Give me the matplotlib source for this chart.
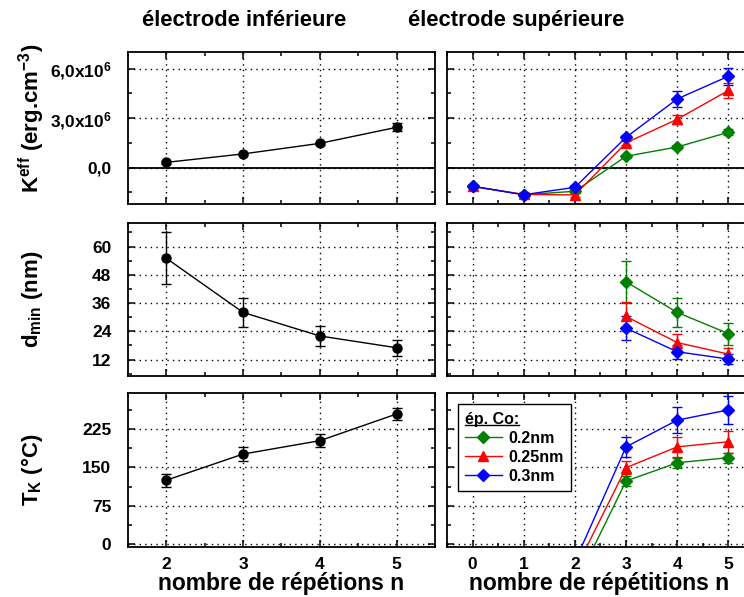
import matplotlib
matplotlib.use('Agg')
import matplotlib.pyplot as plt
from matplotlib.ticker import MultipleLocator, FixedLocator, FixedFormatter
from matplotlib.lines import Line2D

plt.rcParams['font.family'] = ['Liberation Sans', 'DejaVu Sans']
plt.rcParams['font.weight'] = 'bold'
plt.rcParams['mathtext.fontset'] = 'custom'
plt.rcParams['mathtext.rm'] = 'Liberation Sans:bold'
plt.rcParams['mathtext.bf'] = 'Liberation Sans:bold'
plt.rcParams['mathtext.it'] = 'Liberation Sans:bold'
plt.rcParams['mathtext.default'] = 'bf'

# electrode inferieure
n_inf = [2, 3, 4, 5]
keff_inf = [0.32e6, 0.83e6, 1.47e6, 2.44e6]
keff_inf_err = [0.08e6, 0.08e6, 0.1e6, 0.25e6]
dmin_inf = [55, 32, 22, 17]
dmin_inf_err = [11, 6.3, 4.3, 3.5]
tk_inf = [125, 176, 202, 254]
tk_inf_err = [13, 13, 13, 12]

# electrode superieure
n_sup = [0, 1, 2, 3, 4, 5]
keff_02 = [-1.13e6, -1.64e6, -1.43e6, 0.69e6, 1.25e6, 2.14e6]
keff_02_err = [0.08e6, 0.08e6, 0.08e6, 0.1e6, 0.12e6, 0.18e6]
keff_025 = [-1.13e6, -1.62e6, -1.65e6, 1.5e6, 2.93e6, 4.67e6]
keff_025_err = [0.08e6, 0.12e6, 0.12e6, 0.12e6, 0.28e6, 0.43e6]
keff_03 = [-1.13e6, -1.64e6, -1.19e6, 1.84e6, 4.16e6, 5.53e6]
keff_03_err = [0.1e6, 0.12e6, 0.12e6, 0.15e6, 0.46e6, 0.5e6]

n_sup_d = [3, 4, 5]
dmin_02 = [45, 32, 23]
dmin_02_err = [9, 6.3, 4.7]
dmin_025 = [30.3, 19.2, 14.3]
dmin_025_err = [6, 3.7, 2.7]
dmin_03 = [25.3, 15.3, 12.2]
dmin_03_err = [5, 3, 2.3]

n_sup_t = [2, 3, 4, 5]
tk_02 = [-80, 123.5, 159, 169]
tk_02_err = [0, 10, 10, 10]
tk_025 = [-51, 149.5, 190, 200]
tk_025_err = [0, 12, 20, 21]
tk_03 = [-34, 190, 242, 262]
tk_03_err = [0, 20, 25, 27]

labels = ['0.2nm', '0.25nm', '0.3nm']
colors = ['#008000', '#ff0000', '#0000ff']
markers = ['D', '^', 'D']
msizes = [6, 7, 6.5]

fig = plt.figure(figsize=(7.44, 5.97), dpi=100)

rows = [(0.6583, 0.2546), (0.3702, 0.2563), (0.0838, 0.2580)]
lx, rx, w = 0.1720, 0.6008, 0.4126

axL = [fig.add_axes([lx, b, w, h]) for b, h in rows]
axR = [fig.add_axes([rx, b, w, h]) for b, h in rows]


def style(ax, xmaj, xmin, ymaj, ymin, ylim, xlim):
    ax.set_xlim(*xlim)
    ax.set_ylim(*ylim)
    ax.xaxis.set_major_locator(FixedLocator(xmaj))
    ax.xaxis.set_minor_locator(MultipleLocator(xmin))
    ax.yaxis.set_major_locator(FixedLocator(ymaj))
    ax.yaxis.set_minor_locator(MultipleLocator(ymin))
    ax.tick_params(which='both', direction='in', top=True, right=True,
                   width=1.1, labelsize=12.5)
    ax.tick_params(which='major', length=5)
    ax.tick_params(which='minor', length=3)
    ax.tick_params(axis='y', pad=12)
    ax.tick_params(axis='x', pad=7)
    ax.grid(True, which='major', color='black', linestyle=(0, (1, 3)), linewidth=1)
    for s in ax.spines.values():
        s.set_linewidth(1.3)


ekw = dict(capsize=3.5, elinewidth=1, capthick=1, linewidth=1)

# K eff
for ax, xl in [(axL[0], (1.5, 5.5)), (axR[0], (-0.5, 5.5))]:
    style(ax, list(range(6)), 0.5, [0, 3e6, 6e6], 1.5e6, (-2.2e6, 7e6), xl)
    ax.axhline(0, color='black', linewidth=1.3, zorder=1)
axL[0].errorbar(n_inf, keff_inf, yerr=keff_inf_err, color='black', marker='o',
                markersize=6.5, **ekw)
for y, e, c, m, ms in zip([keff_02, keff_025, keff_03],
                          [keff_02_err, keff_025_err, keff_03_err],
                          colors, markers, msizes):
    axR[0].errorbar(n_sup, y, yerr=e, color=c, marker=m, markersize=ms, **ekw)
axL[0].yaxis.set_major_formatter(FixedFormatter(['0,0', '3,0x10$^{6}$', '6,0x10$^{6}$']))
axL[0].set_ylabel('K$^{eff}$ (erg.cm$^{-3}$)', fontsize=16, fontweight='bold')
axL[0].yaxis.set_label_coords(-0.265, 0.5625)

# d min
for ax, xl in [(axL[1], (1.5, 5.5)), (axR[1], (-0.5, 5.5))]:
    style(ax, list(range(6)), 0.5, [12, 24, 36, 48, 60], 6, (5, 70), xl)
axL[1].errorbar(n_inf, dmin_inf, yerr=dmin_inf_err, color='black', marker='o',
                markersize=6.5, **ekw)
for y, e, c, m, ms in zip([dmin_02, dmin_025, dmin_03],
                          [dmin_02_err, dmin_025_err, dmin_03_err],
                          colors, markers, msizes):
    axR[1].errorbar(n_sup_d, y, yerr=e, color=c, marker=m, markersize=ms, **ekw)
axL[1].set_ylabel('d$_{min}$ (nm)', fontsize=16, fontweight='bold')
axL[1].yaxis.set_label_coords(-0.27, 0.5)

# T K
for ax, xl in [(axL[2], (1.5, 5.5)), (axR[2], (-0.5, 5.5))]:
    style(ax, list(range(6)), 0.5, [0, 75, 150, 225], 37.5, (-5, 295), xl)
axL[2].errorbar(n_inf, tk_inf, yerr=tk_inf_err, color='black', marker='o',
                markersize=6.5, **ekw)
for y, e, c, m, ms, lab in zip([tk_02, tk_025, tk_03],
                               [tk_02_err, tk_025_err, tk_03_err],
                               colors, markers, msizes, labels):
    axR[2].errorbar(n_sup_t, y, yerr=e, color=c, marker=m, markersize=ms,
                    label=lab, **ekw)
axL[2].set_ylabel('T$_{K}$ (°C)', fontsize=16, fontweight='bold')
axL[2].yaxis.set_label_coords(-0.27, 0.5)

for ax in axL[:2] + axR[:2]:
    ax.tick_params(labelbottom=False)
for ax in axR:
    ax.tick_params(labelleft=False)

axL[2].set_xlabel('nombre de répétions n', fontsize=16.5, fontweight='bold')
axR[2].set_xlabel('nombre de répétitions n', fontsize=16.5, fontweight='bold')
axR[2].xaxis.set_label_coords(0.496, -0.16)
axL[2].xaxis.set_label_coords(0.5, -0.16)

handles = [Line2D([], [], color=c, marker=m, markersize=ms, linewidth=1)
           for c, m, ms in zip(colors, markers, msizes)]
leg = axR[2].legend(handles, labels, title='ép. Co:', loc='upper left',
                    bbox_to_anchor=(0.035, 0.925), borderaxespad=0,
                    fancybox=False, edgecolor='black', framealpha=1,
                    prop={'weight': 'bold', 'size': 11.5}, handlelength=2.3,
                    labelspacing=0.25, alignment='left', borderpad=0.45,
                    handletextpad=0.4)
leg.get_title().set_fontsize(11.5)
leg.get_title().set_fontweight('bold')
leg.get_frame().set_linewidth(1)

fig.text(0.328, 0.965, 'électrode inférieure', fontsize=15.8, fontweight='bold',
         ha='center', va='center')
fig.text(0.694, 0.965, 'électrode supérieure', fontsize=15.8, fontweight='bold',
         ha='center', va='center')

# underline legend title
fig.canvas.draw()
bb = leg.get_title().get_window_extent()
inv = fig.transFigure.inverted()
(x0, y0), (x1, _) = inv.transform([(bb.x0, bb.y0), (bb.x1, bb.y0)])
fig.add_artist(Line2D([x0, x1], [y0 + 0.002, y0 + 0.002], color='black',
                      linewidth=1, transform=fig.transFigure))

fig.savefig('out.png', dpi=100)
